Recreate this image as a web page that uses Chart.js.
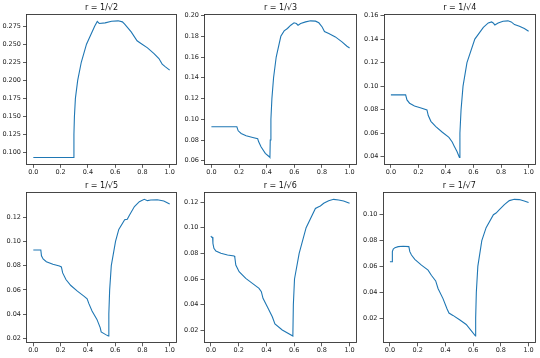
<!DOCTYPE html>
<html><head><meta charset="utf-8">
<script src="https://cdn.jsdelivr.net/npm/chart.js@4"></script>
<style>
html,body{margin:0;padding:0;background:#fff}
body{width:540px;height:358px;overflow:hidden;position:relative}
canvas{position:absolute}
</style>
</head><body>
<script>
// ---- data ----
const titles = ["r = 1/√2", "r = 1/√3", "r = 1/√4", "r = 1/√5", "r = 1/√6", "r = 1/√7"];
const xTicks = [0.0, 0.2, 0.4, 0.6, 0.8, 1.0];

const xs1 = [0, 0.294, 0.2978, 0.3014, 0.3086, 0.3254, 0.3517, 0.39, 0.4498, 0.4689, 0.4833, 0.5263, 0.5742, 0.622, 0.6531, 0.6699, 0.7177, 0.7608, 0.7895, 0.8373, 0.8852, 0.921, 0.945, 0.9689, 1.0];
const ys1 = [0.0931, 0.0931, 0.125, 0.150, 0.175, 0.200, 0.225, 0.250, 0.275, 0.2815, 0.2787, 0.2796, 0.2819, 0.2824, 0.281, 0.2778, 0.2671, 0.2547, 0.2510, 0.245, 0.2371, 0.2302, 0.2224, 0.2187, 0.2141];

const xs2 = [0, 0.1842, 0.1938, 0.2153, 0.2512, 0.299, 0.3349, 0.3421, 0.3589, 0.39, 0.4187, 0.4234, 0.4258, 0.4306, 0.4378, 0.4498, 0.4689, 0.5024, 0.5263, 0.5502, 0.5742, 0.5981, 0.6148, 0.6268, 0.6459, 0.6818, 0.7177, 0.7536, 0.7775, 0.8014, 0.8182, 0.8493, 0.8971, 0.945, 0.9809, 1.0];
const ys2 = [0.0928, 0.0928, 0.0889, 0.0863, 0.0841, 0.0825, 0.0812, 0.0783, 0.0735, 0.0671, 0.0639, 0.0632, 0.080, 0.100, 0.120, 0.140, 0.160, 0.180, 0.1852, 0.1875, 0.1907, 0.193, 0.1923, 0.1907, 0.1923, 0.1939, 0.1949, 0.1946, 0.193, 0.189, 0.1846, 0.1826, 0.1794, 0.1746, 0.1704, 0.1688];

const xs3 = [0, 0.1071, 0.1167, 0.1357, 0.1714, 0.219, 0.2619, 0.2714, 0.2905, 0.3262, 0.3738, 0.4214, 0.4452, 0.46, 0.48, 0.4976, 0.5012, 0.5095, 0.5238, 0.5524, 0.6095, 0.6714, 0.7071, 0.731, 0.7429, 0.7548, 0.7786, 0.8143, 0.85, 0.8738, 0.8976, 0.9333, 0.969, 1.0];
const ys3 = [0.0926, 0.0926, 0.0883, 0.0855, 0.0832, 0.0815, 0.0798, 0.075, 0.0701, 0.0656, 0.0608, 0.0565, 0.0525, 0.049, 0.0445, 0.0394, 0.060, 0.080, 0.100, 0.120, 0.140, 0.150, 0.1537, 0.1546, 0.1537, 0.152, 0.1537, 0.1552, 0.1555, 0.1546, 0.1523, 0.1509, 0.1489, 0.1466];

const xs4 = [0, 0.055, 0.0598, 0.0718, 0.0957, 0.1435, 0.1914, 0.2057, 0.2153, 0.2392, 0.2751, 0.323, 0.3708, 0.3947, 0.4067, 0.4306, 0.4665, 0.4904, 0.4976, 0.5311, 0.5502, 0.5538, 0.5598, 0.5718, 0.6029, 0.6268, 0.6699, 0.689, 0.7057, 0.7416, 0.7775, 0.8134, 0.8373, 0.8612, 0.9091, 0.9569, 1.0];
const ys4 = [0.0929, 0.0929, 0.0882, 0.0855, 0.0833, 0.0811, 0.0797, 0.0789, 0.074, 0.0685, 0.0636, 0.0589, 0.0548, 0.0526, 0.0488, 0.0425, 0.0356, 0.0288, 0.0252, 0.023, 0.0219, 0.040, 0.060, 0.080, 0.100, 0.110, 0.118, 0.1184, 0.1219, 0.1288, 0.1329, 0.1348, 0.1337, 0.1342, 0.1345, 0.1334, 0.1309];

const xs5 = [0, 0.0048, 0.012, 0.0144, 0.0215, 0.0359, 0.0718, 0.1196, 0.1675, 0.1722, 0.1794, 0.2033, 0.2512, 0.299, 0.3469, 0.3636, 0.3756, 0.4067, 0.4426, 0.4617, 0.5144, 0.5909, 0.5945, 0.6029, 0.6364, 0.6866, 0.7536, 0.7775, 0.7895, 0.8134, 0.8493, 0.8852, 0.921, 0.9569, 1.0];
const ys5 = [0.0935, 0.0925, 0.0925, 0.0878, 0.0839, 0.0818, 0.080, 0.0787, 0.0779, 0.0769, 0.0709, 0.0657, 0.0605, 0.0566, 0.0527, 0.0501, 0.0449, 0.0384, 0.0306, 0.0249, 0.0203, 0.0156, 0.040, 0.060, 0.080, 0.100, 0.115, 0.1164, 0.1169, 0.119, 0.121, 0.1221, 0.1216, 0.1208, 0.119];

const xs6 = [0, 0.0167, 0.0175, 0.0239, 0.0359, 0.0598, 0.0957, 0.1364, 0.1435, 0.1555, 0.1794, 0.2273, 0.2751, 0.30, 0.3301, 0.3469, 0.3828, 0.4115, 0.4258, 0.4545, 0.5024, 0.5502, 0.5861, 0.6172, 0.6184, 0.6232, 0.634, 0.6627, 0.6938, 0.7464, 0.7656, 0.7895, 0.8254, 0.8612, 0.8971, 0.933, 0.9689, 1.0];
const ys6 = [0.0636, 0.0636, 0.0714, 0.0735, 0.0745, 0.0753, 0.0756, 0.0753, 0.0714, 0.0688, 0.0655, 0.061, 0.0571, 0.053, 0.0488, 0.0429, 0.0351, 0.0273, 0.0239, 0.0221, 0.0187, 0.0151, 0.0104, 0.0062, 0.020, 0.040, 0.060, 0.080, 0.090, 0.100, 0.1013, 0.1039, 0.1078, 0.1109, 0.1119, 0.1117, 0.1106, 0.1094];

const yTicks1 = [0.100, 0.125, 0.150, 0.175, 0.200, 0.225, 0.250, 0.275];
const yTicks2 = [0.06, 0.08, 0.10, 0.12, 0.14, 0.16, 0.18, 0.20];
const yTicks3 = [0.04, 0.06, 0.08, 0.10, 0.12, 0.14, 0.16];
const yTicks4 = [0.02, 0.04, 0.06, 0.08, 0.10, 0.12];
const yTicks5 = [0.02, 0.04, 0.06, 0.08, 0.10, 0.12];
const yTicks6 = [0.02, 0.04, 0.06, 0.08, 0.10];

// ---- layout (plot-area boxes in page pixels) ----
const panels = [
  {title: titles[0], xs: xs1, ys: ys1, yt: yTicks1, dec: 3, left: 26.5, top: 14,    w: 150,  row: 0},
  {title: titles[1], xs: xs2, ys: ys2, yt: yTicks2, dec: 2, left: 204.5, top: 14,   w: 152,  row: 0},
  {title: titles[2], xs: xs3, ys: ys3, yt: yTicks3, dec: 2, left: 384,  top: 14,    w: 151.5, row: 0},
  {title: titles[3], xs: xs4, ys: ys4, yt: yTicks4, dec: 2, left: 26.5, top: 192.5, w: 150,  row: 1},
  {title: titles[4], xs: xs5, ys: ys5, yt: yTicks5, dec: 2, left: 204,  top: 192.5, w: 152.5, row: 1},
  {title: titles[5], xs: xs6, ys: ys6, yt: yTicks6, dec: 2, left: 383,  top: 192.5, w: 152.5, row: 1}
];
const PLOT_H = 150.3;
const FONT = "'DejaVu Sans', 'Liberation Sans', sans-serif";
const AXC = '#333';
const TICK_SIZE = 6.5;
const TITLE_SIZE = 8;

const boxPlugin = {
  id: 'box',
  afterDraw(c) {
    const a = c.chartArea, ctx = c.ctx;
    const L = Math.floor(a.left) + 0.5, R = Math.floor(a.right) + 0.5;
    const T = Math.floor(a.top) + 0.5, B = Math.floor(a.bottom) + 0.5;
    ctx.save();
    ctx.strokeStyle = AXC;
    ctx.lineWidth = 0.9;
    ctx.strokeRect(L, T, R - L, B - T);
    ctx.restore();
  }
};

panels.forEach(p => {
  const Wy = 26.5;
  const padR = 6;
  const canvasLeft = Math.round(p.left - Wy);
  const wy = p.left - canvasLeft;
  const canvasTop = p.row === 0 ? 0 : 179;
  const titleH = p.top - canvasTop;
  const lineH = TITLE_SIZE * 1.2;
  const titleCenter = p.row === 0 ? 7.5 : 7;
  const padTop = titleCenter - lineH / 2;
  const padBot = titleH - padTop - lineH;
  const Hx = 16;
  const cw = Math.ceil(wy + p.w + padR);
  const ch = Math.ceil(titleH + PLOT_H + Hx);
  const hx = ch - titleH - PLOT_H;

  const cv = document.createElement('canvas');
  cv.width = cw; cv.height = ch;
  cv.style.left = canvasLeft + 'px';
  cv.style.top = canvasTop + 'px';
  cv.style.width = cw + 'px';
  cv.style.height = ch + 'px';
  document.body.appendChild(cv);

  const ymin = Math.min(...p.ys), ymax = Math.max(...p.ys);
  const span = ymax - ymin;

  new Chart(cv, {
    type: 'line',
    data: {
      datasets: [{
        data: p.xs.map((x, i) => ({x: x, y: p.ys[i]})),
        borderColor: '#1f77b4',
        borderWidth: 1.1,
        pointRadius: 0,
        fill: false,
        tension: 0
      }]
    },
    options: {
      responsive: false,
      animation: false,
      devicePixelRatio: 1,
      layout: {padding: {left: 0, right: cw - wy - p.w, top: 0, bottom: 0}},
      plugins: {
        legend: {display: false},
        tooltip: {enabled: false},
        title: {
          display: true, text: p.title, color: '#111', fullSize: false,
          font: {family: FONT, size: TITLE_SIZE, weight: 'normal', lineHeight: 1.2},
          padding: {top: padTop, bottom: padBot}
        }
      },
      scales: {
        x: {
          type: 'linear', min: -0.05, max: 1.05,
          afterFit: s => { s.height = hx; },
          afterBuildTicks: s => { s.ticks = xTicks.map(v => ({value: v})); },
          ticks: {
            callback: v => Number(v).toFixed(1),
            font: {family: FONT, size: TICK_SIZE}, color: '#222',
            padding: 0.5, maxRotation: 0, autoSkip: false
          },
          grid: {drawOnChartArea: false, drawTicks: true, tickLength: 3.5, color: AXC, lineWidth: 0.8},
          border: {display: false}
        },
        y: {
          type: 'linear', min: ymin - 0.05 * span, max: ymax + 0.05 * span,
          afterFit: s => { s.width = wy; },
          afterBuildTicks: s => { s.ticks = p.yt.map(v => ({value: v})); },
          ticks: {
            callback: v => Number(v).toFixed(p.dec),
            font: {family: FONT, size: TICK_SIZE}, color: '#222',
            padding: 2, autoSkip: false
          },
          grid: {drawOnChartArea: false, drawTicks: true, tickLength: 3.5, color: AXC, lineWidth: 0.8},
          border: {display: false}
        }
      }
    },
    plugins: [boxPlugin]
  });
});
</script>
</body></html>
